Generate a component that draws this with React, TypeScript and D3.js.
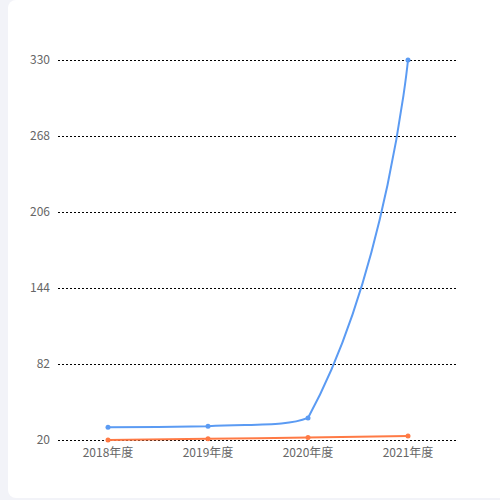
import * as d3 from 'd3'
import React from 'react'

const years = ['2018年度', '2019年度', '2020年度', '2021年度']
const blueValues = [30.4, 31.2, 38, 330]
const orangeValues = [20, 21, 22, 23.2]
const yTicks = [20, 82, 144, 206, 268, 330]

const W = 500, H = 500

// echarts-like smooth line: control points from neighbours, clamped between segment ends
const smoothPath = (pts: [number, number][], smooth = 0.5) => {
  const p = d3.path()
  const n = pts.length
  const cps: { inX: number, inY: number, outX: number, outY: number }[] = pts.map(([x, y], i) => {
    if (i === 0 || i === n - 1) return { inX: x, inY: y, outX: x, outY: y }
    const [px, py] = pts[i - 1], [nx, ny] = pts[i + 1]
    const vx = nx - px, vy = ny - py
    const l0 = Math.hypot(x - px, y - py), l1 = Math.hypot(nx - x, ny - y)
    const r = l1 / (l0 + l1)
    const clamp = (v: number, a: number, b: number) => Math.max(Math.min(a, b), Math.min(Math.max(a, b), v))
    return {
      inX: clamp(x - vx * smooth * (1 - r), px, x),
      inY: clamp(y - vy * smooth * (1 - r), py, y),
      outX: clamp(x + vx * smooth * r, x, nx),
      outY: clamp(y + vy * smooth * r, y, ny),
    }
  })
  p.moveTo(pts[0][0], pts[0][1])
  for (let i = 1; i < n; i++) {
    p.bezierCurveTo(cps[i - 1].outX, cps[i - 1].outY, cps[i].inX, cps[i].inY, pts[i][0], pts[i][1])
  }
  return p.toString()
}

export default function App() {
  const
    x = d3.scaleBand<string>().domain(years).range([58, 458]),
    y = d3.scaleLinear().domain([20, 330]).range([440, 60]),
    cx = (d: string) => (x(d) as number) + x.bandwidth() / 2,
    series = [
      { values: blueValues, color: '#5b9bf3' },
      { values: orangeValues, color: '#ff7a45' },
    ]

  return (
    <svg width={W} height={H} style={{ position: 'absolute', left: 0, top: 0 }}
      fontFamily="'Microsoft YaHei', 'Noto Sans CJK SC', sans-serif">
      <rect width={W} height={H} fill='#f2f3f8' />
      <rect x={8} y={0} width={W} height={498} rx={8} fill='#fff' />
      {yTicks.map(t => (
        <g key={t}>
          <line x1={58} x2={458} y1={y(t) + 0.5} y2={y(t) + 0.5} stroke='#000' strokeDasharray='2,2' />
          <text x={50} y={y(t)} dy='0.35em' textAnchor='end' fontSize={12} fill='#666'>{t}</text>
        </g>
      ))}
      {years.map(d => (
        <text key={d} x={cx(d)} y={453} dy='0.35em' textAnchor='middle' fontSize={12} fill='#666'>{d}</text>
      ))}
      {series.map((s, si) => (
        <g key={si}>
          <path d={smoothPath(s.values.map((v, i) => [cx(years[i]), y(v)] as [number, number]))}
            fill='none' stroke={s.color} strokeWidth={2} />
          {s.values.map((v, i) => (
            <circle key={i} cx={cx(years[i])} cy={y(v)} r={2.5} fill={s.color} />
          ))}
        </g>
      ))}
    </svg>
  )
}
